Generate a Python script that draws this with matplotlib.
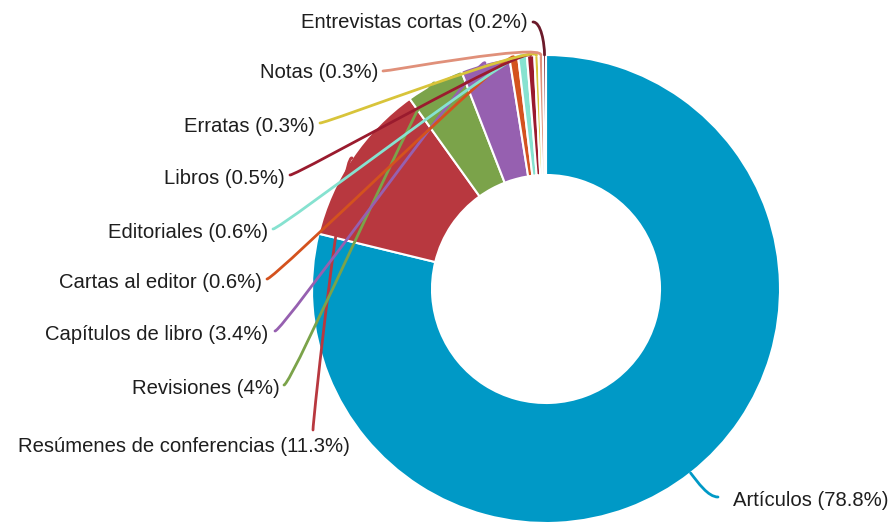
import numpy as np
import matplotlib.pyplot as plt
from matplotlib.path import Path
from matplotlib.patches import PathPatch

tipos = ["Artículos", "Resúmenes de conferencias", "Revisiones", "Capítulos de libro",
         "Cartas al editor", "Editoriales", "Libros", "Erratas", "Notas",
         "Entrevistas cortas"]
porcentajes = [78.8, 11.3, 4, 3.4, 0.6, 0.6, 0.5, 0.3, 0.3, 0.2]
colores = ["#0099c6", "#b8383f", "#7ba34a", "#9660b0", "#d4521e", "#86e2d0",
           "#9a1b2e", "#d8c43a", "#e0907a", "#6b1a2a"]

# label layout in pixels (text x, text y) and where each leader line starts
pos_texto = [(733, 500), (350, 446), (280, 388), (268, 334), (262, 282),
             (268, 232), (285, 178), (315, 126), (378, 73), (528, 22)]
pos_linea = [(718, 497), (313, 430), (284, 385), (275, 331), (267, 279),
             (273, 229), (290, 175), (320, 123), (383, 71), (533, 22)]

W, H = 892, 524
cx, cy, R, ancho = 546, 289, 234, 120


def Y(y):
    return H - y


fig = plt.figure(figsize=(W / 100, H / 100), dpi=100)
ax = fig.add_axes([0, 0, 1, 1])

ax.pie(porcentajes, colors=colores, startangle=90, counterclock=False,
       center=(cx, Y(cy)), radius=R,
       wedgeprops=dict(width=ancho, edgecolor="white", linewidth=1.5))

fracs = np.array(porcentajes) / sum(porcentajes)
medios = np.cumsum(fracs) - fracs / 2

for i, nombre in enumerate(tipos):
    ang = 2 * np.pi * medios[i]  # clockwise from top
    dx, dy = np.sin(ang), -np.cos(ang)  # pixel direction (y down)
    p3 = (cx + R * dx, cy + R * dy)
    c2 = (p3[0] + 12 * dx, p3[1] + 12 * dy)
    p0 = pos_linea[i]
    if i == 0:
        c1 = (p0[0] - 10, p0[1])
    elif i == 1:
        c1 = (p0[0], p0[1] - 10)
    else:
        c1 = (p0[0] + 8, p0[1])
    pts = [p0, c1, c2, p3]
    path = Path([(x, Y(y)) for x, y in pts],
                [Path.MOVETO, Path.CURVE4, Path.CURVE4, Path.CURVE4])
    ax.add_patch(PathPatch(path, fill=False, edgecolor=colores[i], lw=2,
                           zorder=5, capstyle="round"))

    tx, ty = pos_texto[i]
    ax.text(tx, Y(ty), f"{nombre} ({porcentajes[i]:g}%)",
            ha="left" if i == 0 else "right", va="center",
            fontsize=14.6, family="Liberation Sans", color="#1e1e1e")

ax.set_xlim(0, W)
ax.set_ylim(0, H)
ax.set_aspect("equal")
ax.axis("off")

fig.savefig("out.png", dpi=100)
